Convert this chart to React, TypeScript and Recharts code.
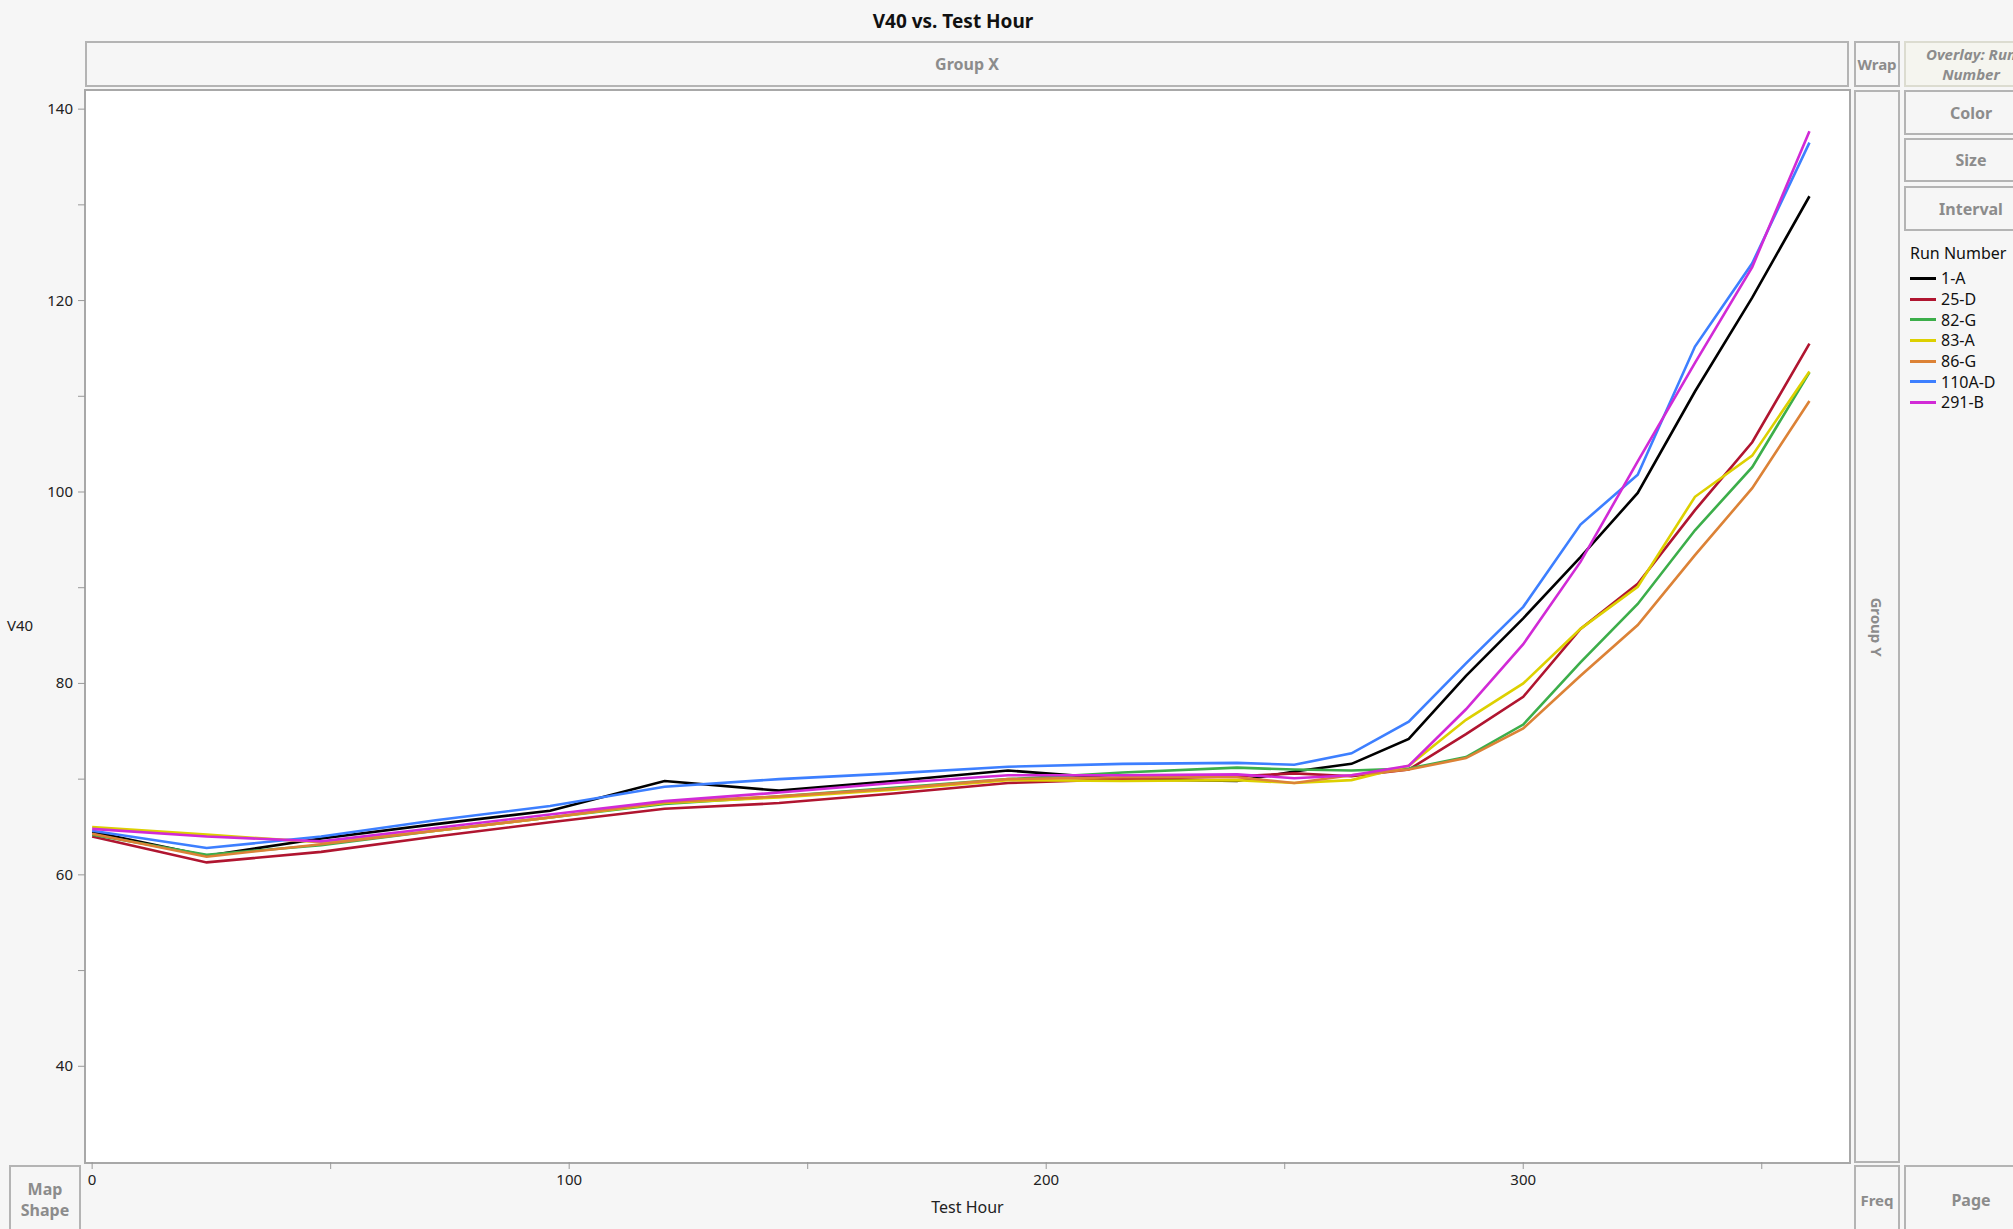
import { LineChart, Line, XAxis, YAxis } from "recharts";

// Test hours sampled for every run
const hours = [0, 24, 48, 72, 96, 120, 144, 168, 192, 216, 240, 252, 264, 276, 288, 300, 312, 324, 336, 348, 360];

const runNames = ["1-A", "25-D", "82-G", "83-A", "86-G", "110A-D", "291-B"];
const runColors = ["#000000", "#b01530", "#3cae4a", "#ddd000", "#dc8236", "#3d7fff", "#d12ad6"];

// V40 per run
const run1A = [64.5, 62.0, 63.8, 65.3, 66.7, 69.8, 68.8, 69.8, 70.9, 70.0, 69.8, 70.8, 71.6, 74.2, 80.8, 86.8, 93.2, 99.9, 110.5, 120.3, 130.9];
const run25D = [64.0, 61.3, 62.4, 64.0, 65.5, 66.9, 67.5, 68.5, 69.6, 70.0, 70.3, 70.6, 70.3, 71.0, 74.7, 78.6, 85.7, 90.4, 98.1, 105.2, 115.5];
const run82G = [64.2, 62.1, 63.1, 64.6, 66.0, 67.4, 68.2, 69.1, 70.0, 70.7, 71.2, 71.0, 70.9, 71.1, 72.3, 75.7, 82.2, 88.3, 96.0, 102.6, 112.5];
const run83A = [65.0, 64.2, 63.4, 64.6, 66.0, 67.5, 68.1, 68.9, 69.9, 69.8, 69.9, 69.6, 69.9, 71.4, 76.2, 80.0, 85.7, 90.1, 99.5, 103.8, 112.6];
const run86G = [64.3, 61.9, 63.2, 64.6, 66.0, 67.6, 68.2, 69.0, 70.0, 70.2, 70.2, 69.6, 70.4, 71.0, 72.2, 75.3, 80.8, 86.1, 93.4, 100.4, 109.5];
const run110AD = [64.6, 62.8, 64.0, 65.7, 67.2, 69.2, 70.0, 70.6, 71.3, 71.6, 71.7, 71.5, 72.7, 76.0, 82.1, 88.0, 96.6, 101.8, 115.2, 123.9, 136.5];
const run291B = [64.8, 64.0, 63.5, 64.9, 66.3, 67.7, 68.6, 69.6, 70.4, 70.4, 70.5, 70.1, 70.4, 71.4, 77.3, 84.1, 92.7, 103.2, 113.5, 123.5, 137.7];

const runValues = [run1A, run25D, run82G, run83A, run86G, run110AD, run291B];

const yTicks = [40, 50, 60, 70, 80, 90, 100, 110, 120, 130, 140];
const xTicks = [0, 50, 100, 150, 200, 250, 300, 350];

const data = hours.map((h, i) => {
  const row: Record<string, number> = { hour: h };
  runNames.forEach((name, k) => {
    row[name] = runValues[k][i];
  });
  return row;
});

const FONT = "'Noto Sans', 'Open Sans', sans-serif";
const BOX_BORDER = "2px solid #b4b4b4";

function Box({ left, top, width, height, children, style }: any) {
  return (
    <div
      style={{
        position: "absolute",
        left,
        top,
        width,
        height,
        boxSizing: "border-box",
        border: BOX_BORDER,
        display: "flex",
        alignItems: "center",
        justifyContent: "center",
        textAlign: "center",
        color: "#8c8c8c",
        fontWeight: 700,
        fontSize: 16,
        lineHeight: "20px",
        ...style,
      }}
    >
      {children}
    </div>
  );
}

function YTick({ x, y, payload }: any) {
  if (payload.value % 20 !== 0) return <g />;
  return (
    <text x={x} y={y} dy={5} textAnchor="end" fontSize={15} fill="#222" fontFamily={FONT}>
      {payload.value}
    </text>
  );
}

function XTick({ x, y, payload }: any) {
  if (payload.value % 100 !== 0) return <g />;
  return (
    <text x={x} y={y} dy={12} textAnchor="middle" fontSize={15} fill="#222" fontFamily={FONT}>
      {payload.value}
    </text>
  );
}

export default function App() {
  return (
    <div
      style={{
        position: "relative",
        width: 2013,
        height: 1229,
        overflow: "hidden",
        background: "#f6f6f6",
        fontFamily: FONT,
      }}
    >
      <style>{"body{margin:0}"}</style>

      <div
        style={{
          position: "absolute",
          left: 0,
          top: 8,
          width: 1906,
          textAlign: "center",
          fontWeight: 700,
          fontSize: 19,
          color: "#111",
        }}
      >
        V40 vs. Test Hour
      </div>

      <Box left={85} top={41} width={1764} height={46}>Group X</Box>
      <Box left={1854} top={41} width={46} height={46} style={{ fontSize: 15 }}>Wrap</Box>
      <Box
        left={1904}
        top={41}
        width={134}
        height={46}
        style={{ fontStyle: "italic", fontSize: 15, background: "#f5f5ef", border: "2px solid #dcdcd0", whiteSpace: "nowrap" }}
      >
        Overlay: Run
        <br />
        Number
      </Box>
      <Box left={1904} top={90} width={134} height={45}>Color</Box>
      <Box left={1904} top={138} width={134} height={44}>Size</Box>
      <Box left={1904} top={186} width={134} height={45}>Interval</Box>

      <div style={{ position: "absolute", left: 1910, top: 242, fontSize: 16, color: "#111" }}>
        Run Number
        {runNames.map((name, k) => (
          <div key={name} style={{ display: "flex", alignItems: "center", height: 20.7, marginTop: k === 0 ? 4 : 0 }}>
            <span style={{ display: "inline-block", width: 26, height: 3, background: runColors[k], marginRight: 5 }} />
            {name}
          </div>
        ))}
      </div>

      <Box left={1854} top={90} width={46} height={1073}>
        <div style={{ transform: "rotate(90deg)", whiteSpace: "nowrap", fontSize: 15 }}>Group Y</div>
      </Box>

      <div
        style={{
          position: "absolute",
          left: 84,
          top: 89,
          width: 1767,
          height: 1075,
          boxSizing: "border-box",
          background: "#fff",
          border: "2px solid #a8a8a8",
        }}
      />

      <Box left={9} top={1165} width={72} height={70} style={{ fontSize: 16, lineHeight: "21px" }}>
        Map
        <br />
        Shape
      </Box>
      <Box left={1854} top={1165} width={46} height={70} style={{ fontSize: 15 }}>Freq</Box>
      <Box left={1904} top={1165} width={134} height={70}>Page</Box>

      <div style={{ position: "absolute", left: 7, top: 615, fontSize: 15, color: "#222" }}>V40</div>
      <div
        style={{ position: "absolute", left: 85, width: 1765, top: 1196, textAlign: "center", fontSize: 16, color: "#222" }}
      >
        Test Hour
      </div>

      <div style={{ position: "absolute", left: 0, top: 90 }}>
        <LineChart width={1850} height={1139} data={data} margin={{ top: 0, right: 0, left: 0, bottom: 0 }}>
          <XAxis
            dataKey="hour"
            type="number"
            domain={[-1.5, 368.5]}
            ticks={xTicks}
            allowDataOverflow
            height={67}
            axisLine={false}
            tickLine={{ stroke: "#999" }}
            tickSize={7}
            tickMargin={4}
            tick={<XTick />}
            interval={0}
          />
          <YAxis
            type="number"
            domain={[30, 142]}
            ticks={yTicks}
            allowDataOverflow
            width={85}
            axisLine={false}
            tickLine={{ stroke: "#999" }}
            tickSize={7}
            tickMargin={5}
            tick={<YTick />}
            interval={0}
          />
          {runNames.map((name, k) => (
            <Line
              key={name}
              type="linear"
              dataKey={name}
              stroke={runColors[k]}
              strokeWidth={2.6}
              dot={false}
              isAnimationActive={false}
            />
          ))}
        </LineChart>
      </div>
    </div>
  );
}
